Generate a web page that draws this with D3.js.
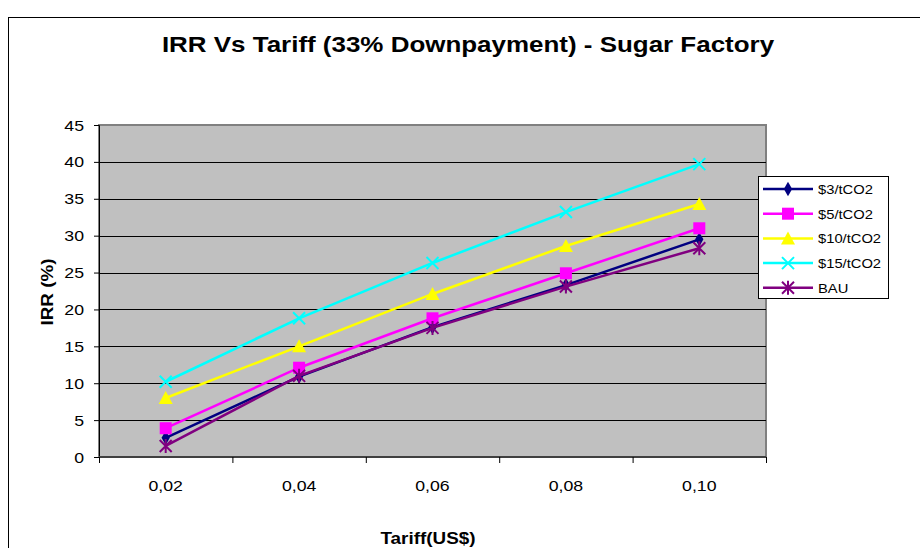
<!DOCTYPE html>
<html>
<head>
<meta charset="utf-8">
<script src="https://cdn.jsdelivr.net/npm/d3@7"></script>
<style>
  body { margin: 0; background: #fff; }
  text { font-family: "Liberation Sans", Arial, sans-serif; }
</style>
</head>
<body>
<script>
// tariff categories (US$) and IRR (%) per scenario
const tariffs = ["0,02", "0,04", "0,06", "0,08", "0,10"]
const irr3 = [2.6, 10.9, 17.6, 23.3, 29.5]
const irr5 = [3.9, 12.1, 18.8, 24.9, 31.0]
const irr10 = [8.0, 15.0, 22.1, 28.6, 34.3]
const irr15 = [10.2, 18.8, 26.3, 33.2, 39.7]
const irrBAU = [1.5, 11.0, 17.5, 23.1, 28.3]
const yTicks = [0, 5, 10, 15, 20, 25, 30, 35, 40, 45]

const series = [
  {name: "$3/tCO2", values: irr3, color: "#000080", symbol: "diamond"},
  {name: "$5/tCO2", values: irr5, color: "#ff00ff", symbol: "square"},
  {name: "$10/tCO2", values: irr10, color: "#ffff00", symbol: "triangle"},
  {name: "$15/tCO2", values: irr15, color: "#00ffff", symbol: "x"},
  {name: "BAU", values: irrBAU, color: "#800080", symbol: "star"}
]

const W = 920, H = 548
const plot = {left: 99, right: 766, top: 125, bottom: 457}
const stretch = 1.18 // the original text is a bit wide

const svg = d3.select("body").append("svg").attr("width", W).attr("height", H)

function label(g, x, y, str, size, opts) {
  opts = opts || {}
  let rot = opts.rotate ? " rotate(-90)" : ""
  return g.append("text")
     .attr("transform", `translate(${x},${y})${rot} scale(${stretch},1)`)
     .attr("text-anchor", opts.anchor || "middle")
     .attr("font-size", size)
     .attr("font-weight", opts.bold ? "bold" : "normal")
     .attr("fill", "#000")
     .text(str)
}

// chart area border
svg.append("rect")
   .attr("x", 8.5).attr("y", 17.5)
   .attr("width", W + 10).attr("height", H + 10)
   .attr("fill", "#fff").attr("stroke", "#000").attr("stroke-width", 1)

label(svg, 468, 52, "IRR Vs Tariff (33% Downpayment) - Sugar Factory", 22, {bold: true})

let x = d3.scaleBand().domain(tariffs).range([plot.left, plot.right])
let y = d3.scaleLinear().domain([0, 45]).range([plot.bottom, plot.top])

svg.append("rect")
   .attr("x", plot.left).attr("y", plot.top)
   .attr("width", plot.right - plot.left).attr("height", plot.bottom - plot.top)
   .attr("fill", "#c0c0c0").attr("stroke", "#808080").attr("stroke-width", 2)

// gridlines
svg.append("g")
   .selectAll("line")
   .data(yTicks.filter(d => d > 0 && d < 45))
   .enter().append("line")
           .attr("x1", plot.left).attr("x2", plot.right)
           .attr("y1", d => Math.round(y(d)) + 0.5).attr("y2", d => Math.round(y(d)) + 0.5)
           .attr("stroke", "#000").attr("stroke-width", 1)

let yAxis = d3.axisLeft(y).tickValues(yTicks).tickSize(5).tickFormat("")
let gy = svg.append("g")
   .attr("transform", `translate(${plot.left},0)`)
   .call(yAxis)
gy.select(".domain").attr("stroke", "#000")
yTicks.forEach(t => label(gy, -15, y(t) + 5.5, String(t), 15, {anchor: "end"}))

// x ticks on band boundaries
let gx = svg.append("g").attr("transform", `translate(0,${plot.bottom})`)
gx.append("line")
  .attr("x1", plot.left).attr("x2", plot.right)
  .attr("y1", 0).attr("y2", 0)
  .attr("stroke", "#404040").attr("stroke-width", 2)
gx.selectAll("line.tick")
  .data(tariffs.map(d => x(d)).concat([plot.right]))
  .enter().append("line")
          .attr("class", "tick")
          .attr("x1", d => d + 0.5).attr("x2", d => d + 0.5)
          .attr("y1", 0).attr("y2", 6)
          .attr("stroke", "#000")
tariffs.forEach(t => label(gx, x(t) + x.bandwidth() / 2, 34, t, 15))

label(svg, 428, 544, "Tariff(US$)", 16, {bold: true})
label(svg, 53, 292, "IRR (%)", 16, {bold: true, rotate: true})

function drawMarker(g, s, cx, cy) {
  if (s.symbol === "diamond") {
    g.append("path").attr("d", d3.symbol(d3.symbolDiamond, 60)())
     .attr("transform", `translate(${cx},${cy})`).attr("fill", s.color)
  } else if (s.symbol === "square") {
    g.append("rect").attr("x", cx - 6).attr("y", cy - 6).attr("width", 12).attr("height", 12)
     .attr("fill", s.color)
  } else if (s.symbol === "triangle") {
    g.append("path").attr("d", `M${cx},${cy - 7}L${cx + 7},${cy + 6}L${cx - 7},${cy + 6}Z`)
     .attr("fill", s.color)
  } else if (s.symbol === "x") {
    g.append("path").attr("d", `M${cx - 6},${cy - 6}L${cx + 6},${cy + 6}M${cx - 6},${cy + 6}L${cx + 6},${cy - 6}`)
     .attr("stroke", s.color).attr("stroke-width", 2).attr("fill", "none")
  } else {
    g.append("path").attr("d", `M${cx - 6},${cy - 6}L${cx + 6},${cy + 6}M${cx - 6},${cy + 6}L${cx + 6},${cy - 6}M${cx},${cy - 7}L${cx},${cy + 7}`)
     .attr("stroke", s.color).attr("stroke-width", 2).attr("fill", "none")
  }
}

let line = d3.line()
  .x((d, i) => x(tariffs[i]) + x.bandwidth() / 2)
  .y(d => y(d))

series.forEach(function(s) {
  let g = svg.append("g")
  g.append("path")
   .attr("d", line(s.values))
   .attr("fill", "none").attr("stroke", s.color).attr("stroke-width", 2.5)
  s.values.forEach((v, i) => drawMarker(g, s, x(tariffs[i]) + x.bandwidth() / 2, y(v)))
})

// legend
let lg = svg.append("g")
lg.append("rect")
  .attr("x", 758.5).attr("y", 176.5).attr("width", 130).attr("height", 122)
  .attr("fill", "#fff").attr("stroke", "#000")
series.forEach(function(s, i) {
  let cy = 189 + i * 24.7
  lg.append("line").attr("x1", 763).attr("x2", 813).attr("y1", cy).attr("y2", cy)
    .attr("stroke", s.color).attr("stroke-width", 2.5)
  drawMarker(lg, s, 788, cy)
  label(lg, 818, cy + 5, s.name, 12.5, {anchor: "start"})
})
</script>
</body>
</html>
